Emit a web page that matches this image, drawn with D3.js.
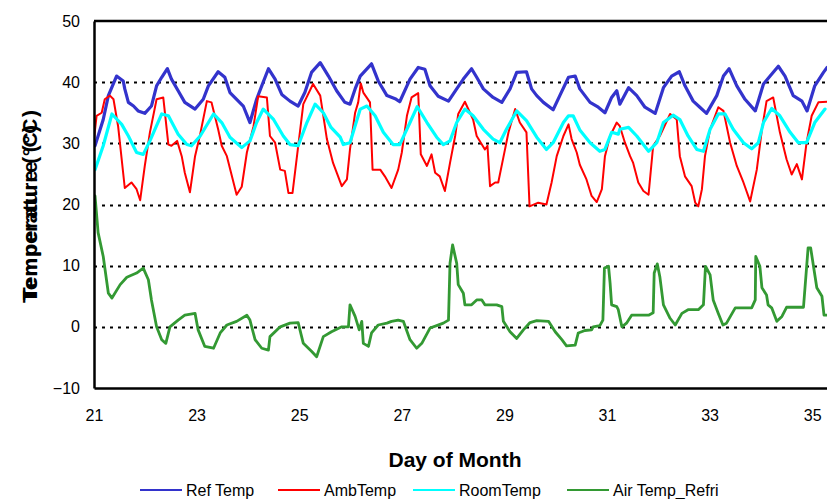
<!DOCTYPE html>
<html>
<head>
<meta charset="utf-8">
<script src="https://cdn.jsdelivr.net/npm/d3@7"></script>
<style>
  body { margin: 0; background: #fff; }
  svg { font-family: "Liberation Sans", Arial, sans-serif; }
</style>
</head>
<body>
<script>

    var margin = {top: 21, right: 0, bottom: 111, left: 94};

    var width = 827 - margin.left - margin.right,
        height = 499 - margin.top - margin.bottom;

    // [day of month, temperature]
    var refTemp = [
    [21.02,29.6],[21.18,33.9],[21.28,37.8],[21.44,41.0],[21.57,40.2],[21.60,38.9],[21.67,36.7],[21.77,36.1],
    [21.86,35.3],[21.99,34.9],[22.12,36.1],[22.22,39.4],[22.32,40.8],[22.43,42.2],[22.51,40.5],[22.64,38.6],
    [22.77,36.7],[22.97,35.6],[23.13,37.2],[23.23,39.4],[23.42,41.7],[23.55,40.8],[23.65,38.3],[23.78,37.2],
    [23.91,36.1],[24.04,33.4],[24.17,37.2],[24.27,39.4],[24.40,42.2],[24.53,40.5],[24.66,38.0],[24.82,36.9],
    [24.98,36.1],[25.11,38.3],[25.24,41.6],[25.41,43.2],[25.57,41.0],[25.73,38.6],[25.89,36.7],[25.99,36.4],
    [26.09,38.9],[26.19,41.0],[26.41,43.0],[26.54,40.2],[26.71,37.8],[26.87,37.3],[26.96,36.8],[27.16,40.5],
    [27.32,42.4],[27.45,42.1],[27.55,39.4],[27.71,37.7],[27.91,36.9],[28.07,38.9],[28.20,40.5],[28.36,42.2],
    [28.46,40.8],[28.59,38.9],[28.78,37.5],[28.95,36.7],[29.11,38.9],[29.24,41.6],[29.43,41.7],[29.53,38.9],
    [29.63,37.8],[29.76,36.7],[29.95,35.5],[30.08,37.8],[30.25,40.8],[30.38,41.0],[30.47,38.9],[30.67,36.7],
    [30.83,35.9],[30.96,35.0],[31.09,37.5],[31.19,38.6],[31.25,36.4],[31.42,39.1],[31.58,37.8],[31.74,35.9],
    [31.94,34.9],[32.10,39.1],[32.26,41.0],[32.41,41.7],[32.52,39.4],[32.68,36.9],[32.81,35.9],[32.94,34.9],
    [33.14,37.8],[33.27,41.0],[33.38,42.2],[33.53,39.4],[33.69,37.2],[33.89,35.3],[34.05,39.7],[34.18,41.0],
    [34.34,42.6],[34.47,41.0],[34.63,37.8],[34.80,36.9],[34.90,35.3],[35.05,39.4],[35.22,41.6],[35.29,42.4]
    ];

    var ambTemp = [
    [21.00,30.7],[21.05,34.5],[21.15,35.0],[21.21,37.2],[21.31,37.8],[21.38,37.2],[21.47,32.8],[21.60,22.7],
    [21.73,23.6],[21.83,22.5],[21.90,20.7],[21.99,26.3],[22.09,31.8],[22.22,37.2],[22.35,37.5],[22.45,29.8],
    [22.51,29.6],[22.62,30.4],[22.71,27.9],[22.77,25.2],[22.87,22.0],[22.97,27.9],[23.07,31.5],[23.20,36.9],
    [23.29,36.7],[23.42,32.3],[23.49,29.6],[23.59,27.9],[23.78,21.6],[23.88,22.9],[23.98,28.5],[24.11,32.8],
    [24.20,37.7],[24.37,37.5],[24.43,31.2],[24.53,30.1],[24.63,25.7],[24.72,25.5],[24.79,21.9],[24.87,21.9],
    [25.08,36.4],[25.27,39.7],[25.41,37.8],[25.54,30.7],[25.66,26.8],[25.83,23.0],[25.93,24.1],[25.99,29.0],
    [26.09,35.0],[26.15,36.7],[26.20,39.8],[26.25,38.3],[26.38,36.7],[26.43,25.7],[26.58,25.7],[26.67,24.6],
    [26.80,22.7],[26.93,25.7],[27.00,28.5],[27.10,34.5],[27.19,37.5],[27.32,38.2],[27.37,28.2],[27.49,26.3],
    [27.58,28.2],[27.65,25.2],[27.74,24.6],[27.84,22.2],[27.94,26.8],[28.04,31.2],[28.10,34.8],[28.23,36.8],
    [28.39,33.9],[28.46,31.2],[28.62,29.0],[28.67,29.6],[28.72,23.0],[28.82,23.6],[28.88,23.6],[28.98,27.7],
    [29.08,31.8],[29.21,35.6],[29.30,33.4],[29.43,31.8],[29.49,19.7],[29.66,20.3],[29.82,20.0],[29.92,23.6],
    [30.02,27.9],[30.15,31.2],[30.25,33.1],[30.31,30.7],[30.41,28.5],[30.47,26.5],[30.60,24.1],[30.70,21.4],
    [30.80,20.4],[30.90,22.5],[30.96,27.9],[31.06,31.2],[31.19,33.4],[31.25,32.8],[31.35,30.1],[31.45,27.9],
    [31.51,26.8],[31.61,23.6],[31.71,22.2],[31.81,21.6],[31.90,29.6],[32.03,31.2],[32.23,34.8],[32.36,33.9],
    [32.42,27.9],[32.52,24.6],[32.65,23.0],[32.72,20.3],[32.78,19.7],[32.85,22.5],[32.91,27.9],[33.01,32.3],
    [33.17,35.9],[33.27,35.3],[33.40,30.1],[33.53,26.3],[33.66,23.6],[33.79,20.5],[33.92,25.7],[34.02,32.3],
    [34.11,36.9],[34.24,37.5],[34.37,31.8],[34.50,27.4],[34.60,24.9],[34.70,26.6],[34.80,24.1],[34.89,30.1],
    [34.99,34.5],[35.12,36.7],[35.29,36.8]
    ];

    var roomTemp = [
    [21.02,25.7],[21.18,29.6],[21.35,34.8],[21.54,33.1],[21.67,31.2],[21.83,28.5],[21.96,28.2],[22.09,30.4],
    [22.32,34.8],[22.45,34.5],[22.64,31.5],[22.81,29.8],[22.90,29.6],[23.07,31.2],[23.33,34.8],[23.49,33.4],
    [23.65,31.0],[23.88,29.3],[24.04,30.4],[24.17,33.4],[24.30,35.6],[24.50,33.9],[24.69,31.2],[24.82,29.8],
    [24.98,29.6],[25.15,33.4],[25.31,36.4],[25.47,35.0],[25.62,32.6],[25.80,31.0],[25.86,29.8],[25.99,30.1],
    [26.19,35.6],[26.32,36.1],[26.48,34.5],[26.64,31.8],[26.83,29.8],[26.96,29.8],[27.16,33.4],[27.30,36.0],
    [27.49,33.4],[27.68,31.0],[27.81,29.8],[27.94,30.4],[28.07,33.4],[28.23,35.6],[28.39,34.5],[28.59,32.3],
    [28.78,30.7],[28.91,30.1],[29.04,32.3],[29.24,35.3],[29.43,33.7],[29.63,31.0],[29.82,29.0],[29.95,30.1],
    [30.15,33.4],[30.25,34.5],[30.34,34.5],[30.47,32.2],[30.67,30.1],[30.86,28.7],[30.96,29.0],[31.09,31.8],
    [31.22,31.5],[31.25,32.3],[31.42,32.6],[31.58,31.2],[31.81,28.7],[31.97,30.1],[32.10,33.4],[32.29,34.6],
    [32.42,33.9],[32.58,31.2],[32.75,29.0],[32.88,28.7],[33.01,32.3],[33.17,34.8],[33.30,34.8],[33.46,32.3],
    [33.66,30.1],[33.82,29.1],[33.95,30.1],[34.05,33.4],[34.21,35.7],[34.37,34.5],[34.57,31.8],[34.73,30.1],
    [34.89,30.1],[35.05,33.4],[35.25,35.6]
    ];

    var airTempRefri = [
    [21.02,21.4],[21.08,15.4],[21.18,11.5],[21.28,5.5],[21.35,4.7],[21.51,6.9],[21.64,8.1],[21.83,8.8],
    [21.96,9.6],[22.06,7.7],[22.12,4.4],[22.22,0.0],[22.32,-2.1],[22.40,-2.7],[22.48,0.0],[22.64,1.1],
    [22.77,1.9],[22.97,2.2],[23.03,-0.5],[23.16,-3.2],[23.33,-3.5],[23.46,-1.0],[23.59,0.3],[23.78,0.9],
    [23.98,1.9],[24.04,1.1],[24.14,-2.1],[24.27,-3.5],[24.40,-3.8],[24.43,-1.6],[24.63,0.0],[24.82,0.6],
    [24.98,0.7],[25.08,-2.7],[25.24,-4.0],[25.34,-4.9],[25.47,-1.6],[25.63,-0.8],[25.83,0.0],[25.96,0.0],
    [25.99,3.6],[26.09,1.7],[26.17,-0.5],[26.22,0.9],[26.25,-2.7],[26.35,-3.2],[26.41,-1.0],[26.54,0.3],
    [26.71,0.6],[26.80,0.9],[26.93,1.1],[27.03,0.9],[27.16,-2.1],[27.29,-3.5],[27.39,-2.7],[27.55,-0.2],
    [27.68,0.2],[27.81,0.6],[27.91,1.1],[27.94,10.4],[27.99,13.4],[28.07,10.4],[28.10,6.9],[28.20,5.5],
    [28.23,3.6],[28.36,3.6],[28.46,4.4],[28.56,4.4],[28.62,3.6],[28.85,3.6],[28.95,3.3],[28.98,0.9],
    [29.11,-0.8],[29.24,-1.9],[29.37,-0.5],[29.50,0.7],[29.63,1.0],[29.86,0.9],[29.99,-0.8],[30.12,-2.1],
    [30.21,-3.1],[30.38,-3.0],[30.44,-1.0],[30.57,-0.6],[30.70,-0.5],[30.73,0.0],[30.86,0.2],[30.92,1.1],
    [30.95,9.6],[31.03,9.9],[31.06,7.2],[31.09,3.6],[31.19,3.3],[31.22,2.8],[31.29,0.0],[31.38,0.6],
    [31.48,1.9],[31.81,1.9],[31.90,2.3],[31.92,8.8],[31.98,10.3],[32.03,8.2],[32.10,3.6],[32.23,1.4],
    [32.33,0.3],[32.46,2.2],[32.58,2.8],[32.78,2.8],[32.88,3.6],[32.92,9.9],[33.01,8.5],[33.07,4.4],
    [33.17,2.2],[33.26,0.3],[33.33,0.6],[33.50,3.1],[33.82,3.1],[33.89,4.4],[33.90,11.5],[33.98,9.9],
    [34.02,6.4],[34.11,5.2],[34.14,3.6],[34.21,3.1],[34.31,0.9],[34.41,1.7],[34.50,3.2],[34.83,3.2],
    [34.92,12.9],[34.97,12.9],[35.09,6.4],[35.19,5.0],[35.23,1.9],[35.29,1.9]
    ];

    var seriesNames = ["Ref Temp", "AmbTemp", "RoomTemp", "Air Temp_Refri"];
    var seriesData = [refTemp, ambTemp, roomTemp, airTempRefri];
    var colors = ["#3333cc", "#ff0000", "#00ffff", "#339933"];
    var lineWidths = [3.2, 2, 3.2, 2.8];

    var xTicks = [21, 23, 25, 27, 29, 31, 33, 35];
    var yTicks = [-10, 0, 10, 20, 30, 40, 50];
    var gridTicks = [0, 10, 20, 30, 40];

    var svg = d3.select("body")
    .append("svg")
    .attr("width", 827)
    .attr("height", 499)
    .append("g")
    .attr("transform", "translate(" + margin.left + "," + margin.top + ")");

    // Set x and y (51.3px per day, chart is cut off on the right)
    var x = d3.scaleLinear()
    .domain([21, 21 + width / 51.3])
    .range([0, width]);

    var y = d3.scaleLinear()
    .domain([-10, 50])
    .range([height, 0]);

    svg.append("defs").append("clipPath")
    .attr("id", "plot")
    .append("rect")
    .attr("width", width)
    .attr("height", height);

    // dotted gridlines
    svg.append("g")
    .selectAll("line")
    .data(gridTicks)
    .enter().append("line")
    .attr("x1", 0)
    .attr("x2", width)
    .attr("y1", function(d) { return Math.round(y(d)) + 0.5; })
    .attr("y2", function(d) { return Math.round(y(d)) + 0.5; })
    .attr("stroke", "#000")
    .attr("stroke-width", 2)
    .attr("stroke-dasharray", "3,5");

    // Series lines
    var line = d3.line()
    .x(function(d) { return x(d[0]); })
    .y(function(d) { return y(d[1]); });

    svg.append("g")
    .attr("clip-path", "url(#plot)")
    .selectAll("path")
    .data(seriesData)
    .enter().append("path")
    .attr("d", line)
    .attr("fill", "none")
    .attr("stroke", function(d, i) { return colors[i]; })
    .attr("stroke-width", function(d, i) { return lineWidths[i]; })
    .attr("stroke-linejoin", "round")
    .attr("stroke-linecap", "round");

    // Axes
    var yAxis = d3.axisLeft(y)
    .tickValues(yTicks)
    .tickSize(0)
    .tickPadding(14);

    var xAxis = d3.axisBottom(x)
    .tickValues(xTicks)
    .tickSize(0)
    .tickPadding(22);

    svg.append("g")
    .attr("class", "y axis")
    .call(yAxis);

    svg.append("g")
    .attr("class", "x axis")
    .attr("transform", "translate(0," + height + ")")
    .call(xAxis);

    svg.selectAll(".axis text")
    .attr("font-size", "16px")
    .attr("font-family", "Liberation Sans, Arial, sans-serif")
    .attr("fill", "#000");

    svg.selectAll(".axis .domain")
    .attr("stroke", "#000")
    .attr("stroke-width", 2.5);

    // top border
    svg.append("line")
    .attr("x1", 0)
    .attr("x2", width)
    .attr("y1", 0)
    .attr("y2", 0)
    .attr("stroke", "#000")
    .attr("stroke-width", 2.5);

    // axis titles
    svg.append("text")
    .attr("x", 455 - margin.left)
    .attr("y", 467 - margin.top)
    .attr("text-anchor", "middle")
    .attr("font-size", "21px")
    .attr("font-weight", "bold")
    .text("Day of Month");

    // two overlapping titles, as in the original
    var yTitle = svg.append("g")
    .attr("transform", "translate(" + (37 - margin.left) + "," + (303 - margin.top) + ") rotate(-90)");

    yTitle.append("text")
    .attr("text-anchor", "start")
    .attr("font-size", "21px")
    .attr("font-weight", "bold")
    .attr("textLength", 193)
    .text("Temperature (°C)");

    yTitle.append("text")
    .attr("text-anchor", "start")
    .attr("font-size", "21px")
    .attr("font-weight", "bold")
    .attr("x", 3)
    .attr("textLength", 175)
    .text("Temperature (°C)");

    // Draw legend
    var legendX = [140, 278, 413, 567];
    var legend = svg.selectAll(".legend")
    .data(seriesNames)
    .enter().append("g")
    .attr("class", "legend")
    .attr("transform", function(d, i) { return "translate(" + (legendX[i] - margin.left) + "," + (490 - margin.top) + ")"; });

    legend.append("line")
    .attr("x1", 0)
    .attr("x2", 42)
    .attr("stroke", function(d, i) { return colors[i]; })
    .attr("stroke-width", 2);

    legend.append("text")
    .attr("x", 46)
    .attr("dy", ".35em")
    .attr("font-size", "16px")
    .text(function(d) { return d; });

</script>
</body>
</html>
